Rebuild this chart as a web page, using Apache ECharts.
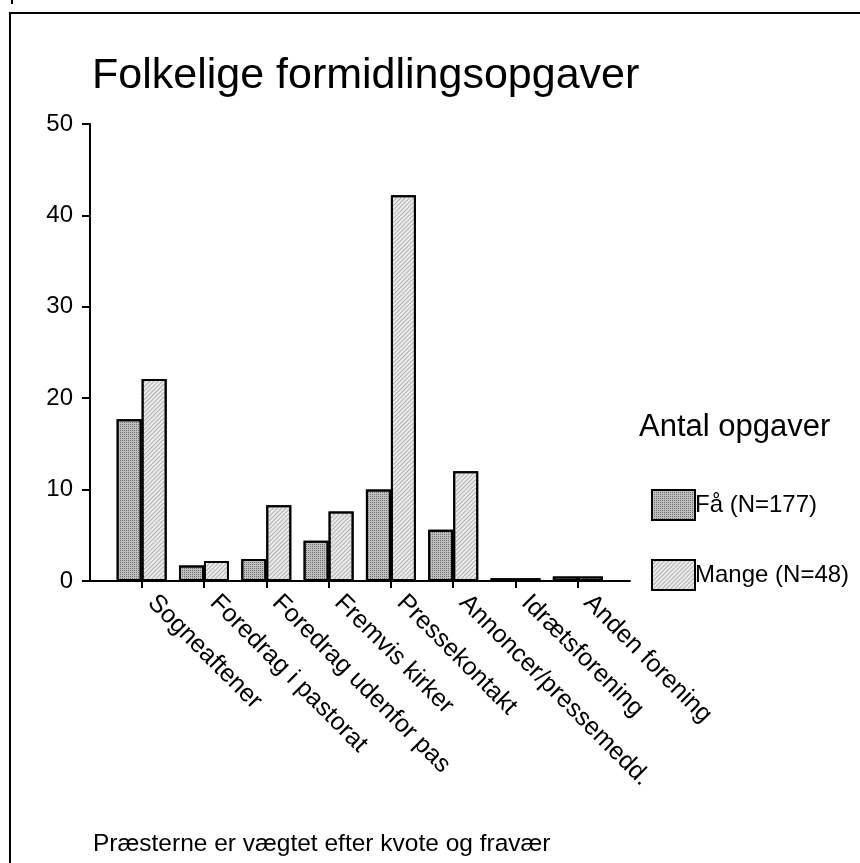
<!DOCTYPE html>
<html lang="da">
<head>
<meta charset="UTF-8">
<title>Folkelige formidlingsopgaver</title>
<script src="https://cdn.jsdelivr.net/npm/echarts@6/dist/echarts.min.js"></script>
<style>
  html, body { margin: 0; padding: 0; background: #fff; }
</style>
</head>
<body>
<div id="main" style="width: 860px;height: 863px"></div>
<script>
// data
let categories = ["Sogneaftener", "Foredrag i pastorat", "Foredrag udenfor pas", "Fremvis kirker",
    "Pressekontakt", "Annoncer/pressemedd.", "Idrætsforening", "Anden forening"]
let faaValues = [17.7, 1.7, 2.4, 4.4, 10.0, 5.6, 0.3, 0.5]
let mangeValues = [22.1, 2.2, 8.3, 7.6, 42.2, 12.0, 0.3, 0.5]
let seriesNames = ["Få (N=177)", "Mange (N=48)"]
let yTicks = [0, 10, 20, 30, 40, 50]

let font = "Liberation Sans, Arial, sans-serif"
let mycharts = echarts.init(document.getElementById("main"))

mycharts.setOption({
    animation: false,
    backgroundColor: "#fff",
    title: [{
        text: "Folkelige formidlingsopgaver",
        left: 87, top: 50,
        textStyle: {fontFamily: font, fontSize: 43, fontWeight: "normal", color: "#000"}
    }, {
        text: "Antal opgaver",
        left: 634, top: 407,
        textStyle: {fontFamily: font, fontSize: 31, fontWeight: "normal", color: "#000"}
    }, {
        text: "Præsterne er vægtet efter kvote og fravær",
        left: 88, top: 827,
        textStyle: {fontFamily: font, fontSize: 24.5, fontWeight: "normal", color: "#000"}
    }],
    legend: {
        orient: "vertical",
        left: 646, top: 484,
        icon: "rect",
        itemWidth: 43, itemHeight: 30,
        itemGap: 38,
        textStyle: {fontFamily: font, fontSize: 24, color: "#000", padding: [3, 0, 0, -5]},
        data: seriesNames
    },
    grid: [
        // outer frame for the long axis lines
        {left: 90, right: 230, top: 124, bottom: 282},
        // bar area, narrower than the axis line
        {left: 110.5, right: 251, top: 124, bottom: 282}
    ],
    xAxis: [{
        gridIndex: 0, type: "value", min: 0, max: 1,
        axisLine: {show: true, lineStyle: {color: "#000", width: 2}},
        axisTick: {show: false}, axisLabel: {show: false}, splitLine: {show: false}
    }, {
        gridIndex: 1, type: "category", data: categories,
        axisLine: {show: false},
        axisTick: {show: true, alignWithLabel: true, length: 7, lineStyle: {color: "#000", width: 2}},
        axisLabel: {rotate: -45, margin: 8, padding: [0, 0, 0, 14], fontFamily: font, fontSize: 25, color: "#000", interval: 0}
    }],
    yAxis: [{
        gridIndex: 0, type: "value", min: yTicks[0], max: yTicks[yTicks.length - 1], interval: 10,
        axisLine: {show: true, lineStyle: {color: "#000", width: 2}},
        axisTick: {show: true, length: 8, lineStyle: {color: "#000", width: 2}},
        axisLabel: {margin: 17, fontFamily: font, fontSize: 24, color: "#000"},
        splitLine: {show: false}
    }, {
        gridIndex: 1, type: "value", min: yTicks[0], max: yTicks[yTicks.length - 1], show: false,
        splitLine: {show: false}
    }],
    series: [{
        name: seriesNames[0], type: "bar", xAxisIndex: 1, yAxisIndex: 1,
        data: faaValues, barWidth: 25, barGap: "0%",
        itemStyle: {
            color: "#c0c0c0", borderColor: "#000", borderWidth: 2,
            decal: {symbol: "rect", symbolSize: 1, dashArrayX: [1, 1], dashArrayY: [1, 1], color: "#707070"}
        }
    }, {
        name: seriesNames[1], type: "bar", xAxisIndex: 1, yAxisIndex: 1,
        data: mangeValues, barWidth: 25,
        itemStyle: {
            color: "#ececec", borderColor: "#000", borderWidth: 2,
            decal: {symbol: "rect", symbolSize: 1, dashArrayX: [1, 0], dashArrayY: [1, 2], rotation: -Math.PI / 4, color: "#b0b0b0"}
        }
    }],
    graphic: [
        // page frame, open to the right and bottom
        {type: "rect", shape: {x: 10, y: 13, width: 900, height: 900}, style: {fill: null, stroke: "#000", lineWidth: 2}, silent: true},
        {type: "line", shape: {x1: 12, y1: 0, x2: 12, y2: 4}, style: {stroke: "#000", lineWidth: 2}, silent: true}
    ]
})
</script>
</body>
</html>
